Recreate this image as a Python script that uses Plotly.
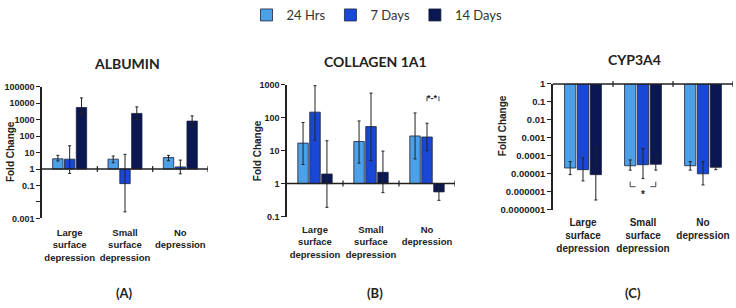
import plotly.graph_objects as go

# ---------------- data ----------------
categories = ["Large<br>surface<br>depression", "Small<br>surface<br>depression", "No<br>depression"]
series_names = ["24 Hrs", "7 Days", "14 Days"]
series_colors = ["#4d9fe6", "#1a48d6", "#0b1752"]

# ALBUMIN (fold change, whisker top, whisker bottom) per series
alb_24h = [4.2, 4.0, 5.0]
alb_24h_hi = [6.8, 6.2, 6.8]
alb_24h_lo = [3.1, 2.4, 3.2]
alb_7d = [4.0, 0.13, 1.35]
alb_7d_hi = [26, 7.8, 3.5]
alb_7d_lo = [0.54, 0.0025, 0.51]
alb_14d = [5500, 2400, 820]
alb_14d_hi = [21000, 6000, 1700]
alb_14d_lo = [2000, 1000, 400]

# COLLAGEN 1A1
col_24h = [17, 19, 28]
col_24h_hi = [72, 80, 140]
col_24h_lo = [3.8, 4.2, 5.6]
col_7d = [148, 54, 26]
col_7d_hi = [940, 560, 68]
col_7d_lo = [21, 5.0, 10]
col_14d = [1.95, 2.2, 0.56]
col_14d_hi = [20, 9.7, 0.8]
col_14d_lo = [0.19, 0.53, 0.31]

# CYP3A4
cyp_24h = [2.1e-5, 2.8e-5, 2.8e-5]
cyp_24h_hi = [4.8e-5, 5.9e-5, 4.8e-5]
cyp_24h_lo = [9e-6, 1.6e-5, 1.6e-5]
cyp_7d = [1.7e-5, 3.2e-5, 1.0e-5]
cyp_7d_hi = [7.8e-5, 2.5e-4, 4.8e-5]
cyp_7d_lo = [4e-6, 5.4e-6, 2.4e-6]
cyp_14d = [9e-6, 3.4e-5, 2.3e-5]
cyp_14d_hi = [2.9e-4, 1.0e-4, 2.6e-5]
cyp_14d_lo = [3.5e-7, 1.6e-5, 1.7e-5]

alb_tickvals = [1e5, 1e4, 1e3, 100, 10, 1, 0.1, 0.01, 0.001]
alb_ticktext = ["100000", "10000", "1000", "100", "10", "1", "0.1", "", "0.001"]
col_tickvals = [1000, 100, 10, 1, 0.1]
col_ticktext = ["1000", "100", "10", "1", "0.1"]
cyp_tickvals = [1, 0.1, 0.01, 0.001, 1e-4, 1e-5, 1e-6, 1e-7]
cyp_ticktext = ["1", "0.1", "0.01", "0.001", "0.0001", "0.00001", "0.000001", "0.0000001"]

# ---------------- layout helpers ----------------
W, H = 736, 308
BARGAP = 0.36

panels = [
    dict(title="ALBUMIN", label="(A)", vals=[alb_24h, alb_7d, alb_14d],
         hi=[alb_24h_hi, alb_7d_hi, alb_14d_hi], lo=[alb_24h_lo, alb_7d_lo, alb_14d_lo],
         yrange=[-3, 5], tv=alb_tickvals, tt=alb_ticktext,
         px=(42, 208), py=(83, 220), tfs=9, cfs=9.5, standoff=7,
         title_xy=(127, 59), ytitle_xy=(10, 151), label_x=124),
    dict(title="COLLAGEN 1A1", label="(B)", vals=[col_24h, col_7d, col_14d],
         hi=[col_24h_hi, col_7d_hi, col_14d_hi], lo=[col_24h_lo, col_7d_lo, col_14d_lo],
         yrange=[-1, 3], tv=col_tickvals, tt=col_ticktext,
         px=(287, 455), py=(81, 218), tfs=9, cfs=9.5, standoff=6,
         title_xy=(375, 57), ytitle_xy=(257, 150), label_x=375),
    dict(title="CYP3A4", label="(C)", vals=[cyp_24h, cyp_7d, cyp_14d],
         hi=[cyp_24h_hi, cyp_7d_hi, cyp_14d_hi], lo=[cyp_24h_lo, cyp_7d_lo, cyp_14d_lo],
         yrange=[-7, 0], tv=cyp_tickvals, tt=cyp_ticktext,
         px=(553, 733), py=(80, 211), tfs=9.5, cfs=10, standoff=5,
         title_xy=(634, 55), ytitle_xy=(502, 124), label_x=633),
]

def fx(px):
    return px / W

def fy(py):
    return 1 - py / H

fig = go.Figure()
shapes = []
annotations = []
bold_arial = dict(family="Liberation Sans, Arial", weight="bold", color="#222")

for i, p in enumerate(panels):
    s = "" if i == 0 else str(i + 1)
    for k in range(3):
        v = p["vals"][k]
        plus = [h - a for h, a in zip(p["hi"][k], v)]
        minus = [a - l for a, l in zip(v, p["lo"][k])]
        fig.add_trace(go.Bar(
            x=categories, y=[a - 1 for a in v], base=1,
            name=series_names[k], legendgroup=series_names[k], showlegend=(i == 0),
            marker=dict(color=series_colors[k], line=dict(color="#1b2540", width=0.8)),
            error_y=dict(type="data", symmetric=False, array=plus, arrayminus=minus,
                         color="#222", thickness=1, width=1.5),
            xaxis="x" + s, yaxis="y" + s,
        ))
    fig.layout["xaxis" + s] = dict(
        domain=[fx(p["px"][0]), fx(p["px"][1])], anchor="y" + s,
        type="category", range=[-0.5, 2.5], showline=False, ticks="",
        showgrid=False, zeroline=False, tickangle=0,
        tickfont=dict(size=p["cfs"], **bold_arial), ticklabelstandoff=p["standoff"],
    )
    fig.layout["yaxis" + s] = dict(
        domain=[fy(p["py"][1]), fy(p["py"][0])], anchor="x" + s,
        type="log", range=p["yrange"], showline=True, linecolor="#222", linewidth=1.5,
        ticks="outside", ticklen=4, tickwidth=1.2, tickcolor="#222",
        tickvals=p["tv"], ticktext=p["tt"], showgrid=False, zeroline=False,
        tickfont=dict(size=p["tfs"], **bold_arial),
    )
    lo, hi = p["yrange"]
    f1 = (0 - lo) / (hi - lo)  # domain fraction of value 1
    shapes.append(dict(type="line", xref="x" + s + " domain", yref="y" + s + " domain",
                       x0=0, x1=1, y0=f1, y1=f1, line=dict(color="#222", width=1.5)))
    for bx in [0.5, 1.5, 2.5]:
        shapes.append(dict(type="line", xref="x" + s, yref="y" + s + " domain",
                           ysizemode="pixel", yanchor=f1, x0=bx, x1=bx, y0=-3, y1=3,
                           line=dict(color="#222", width=1.2)))
    annotations.append(dict(text=p["title"], xref="paper", yref="paper",
                            x=fx(p["title_xy"][0]), y=fy(p["title_xy"][1]),
                            showarrow=False, xanchor="center", yanchor="middle",
                            font=dict(family="Lato", size=14, weight="bold", color="#222")))
    annotations.append(dict(text="Fold Change", xref="paper", yref="paper",
                            x=fx(p["ytitle_xy"][0]), y=fy(p["ytitle_xy"][1]),
                            showarrow=False, textangle=-90, xanchor="center", yanchor="middle",
                            font=dict(size=10, **bold_arial)))
    annotations.append(dict(text=p["label"], xref="paper", yref="paper",
                            x=fx(p["label_x"]), y=fy(298),
                            showarrow=False, xanchor="center", yanchor="middle",
                            font=dict(family="Lato", size=13, weight="bold", color="#222")))

# significance markers
slot = (1 - BARGAP) / 3
# collagen: No depression, 7 Days vs 14 Days
xa, xb = 2 + 0.0, 2 + slot
fB = (218 - 95) / 137
for xx in (xa, xb):
    shapes.append(dict(type="line", xref="x2", yref="y2 domain", ysizemode="pixel",
                       yanchor=fB, x0=xx, x1=xx, y0=2, y1=-3, line=dict(color="#444", width=1)))
annotations.append(dict(text="*-*", xref="x2", yref="y2 domain", x=(xa + xb) / 2, y=fB,
                        showarrow=False, xanchor="center", yanchor="middle",
                        font=dict(size=9, **bold_arial)))
# CYP3A4: Small surface depression, 24 Hrs vs 14 Days
xa, xb = 1 - slot, 1 + slot
fC = (211 - 187) / 131
for xx, dx in [(xa, 0.09), (xb, -0.09)]:
    shapes.append(dict(type="line", xref="x3", yref="y3 domain", ysizemode="pixel",
                       yanchor=fC, x0=xx, x1=xx, y0=0, y1=5, line=dict(color="#444", width=1)))
    shapes.append(dict(type="line", xref="x3", yref="y3 domain", x0=xx, x1=xx + dx,
                       y0=fC, y1=fC, line=dict(color="#444", width=1)))
annotations.append(dict(text="*", xref="x3", yref="y3 domain", x=1, y=fC,
                        showarrow=False, xanchor="center", yanchor="top",
                        font=dict(size=10, **bold_arial)))

fig.update_layout(
    width=W, height=H, margin=dict(l=0, r=0, t=0, b=0),
    paper_bgcolor="white", plot_bgcolor="white",
    barmode="group", bargap=BARGAP, bargroupgap=0.12,
    showlegend=True,
    legend=dict(orientation="h", x=0.5 + 9 / W, xanchor="center", y=fy(8), yanchor="middle",
                font=dict(family="Lato", size=13, color="#333"), itemwidth=30,
                traceorder="normal"),
    shapes=shapes, annotations=annotations,
)

fig.write_html("out.html", config={"displayModeBar": False},
               post_script="document.body.style.margin='0';")
